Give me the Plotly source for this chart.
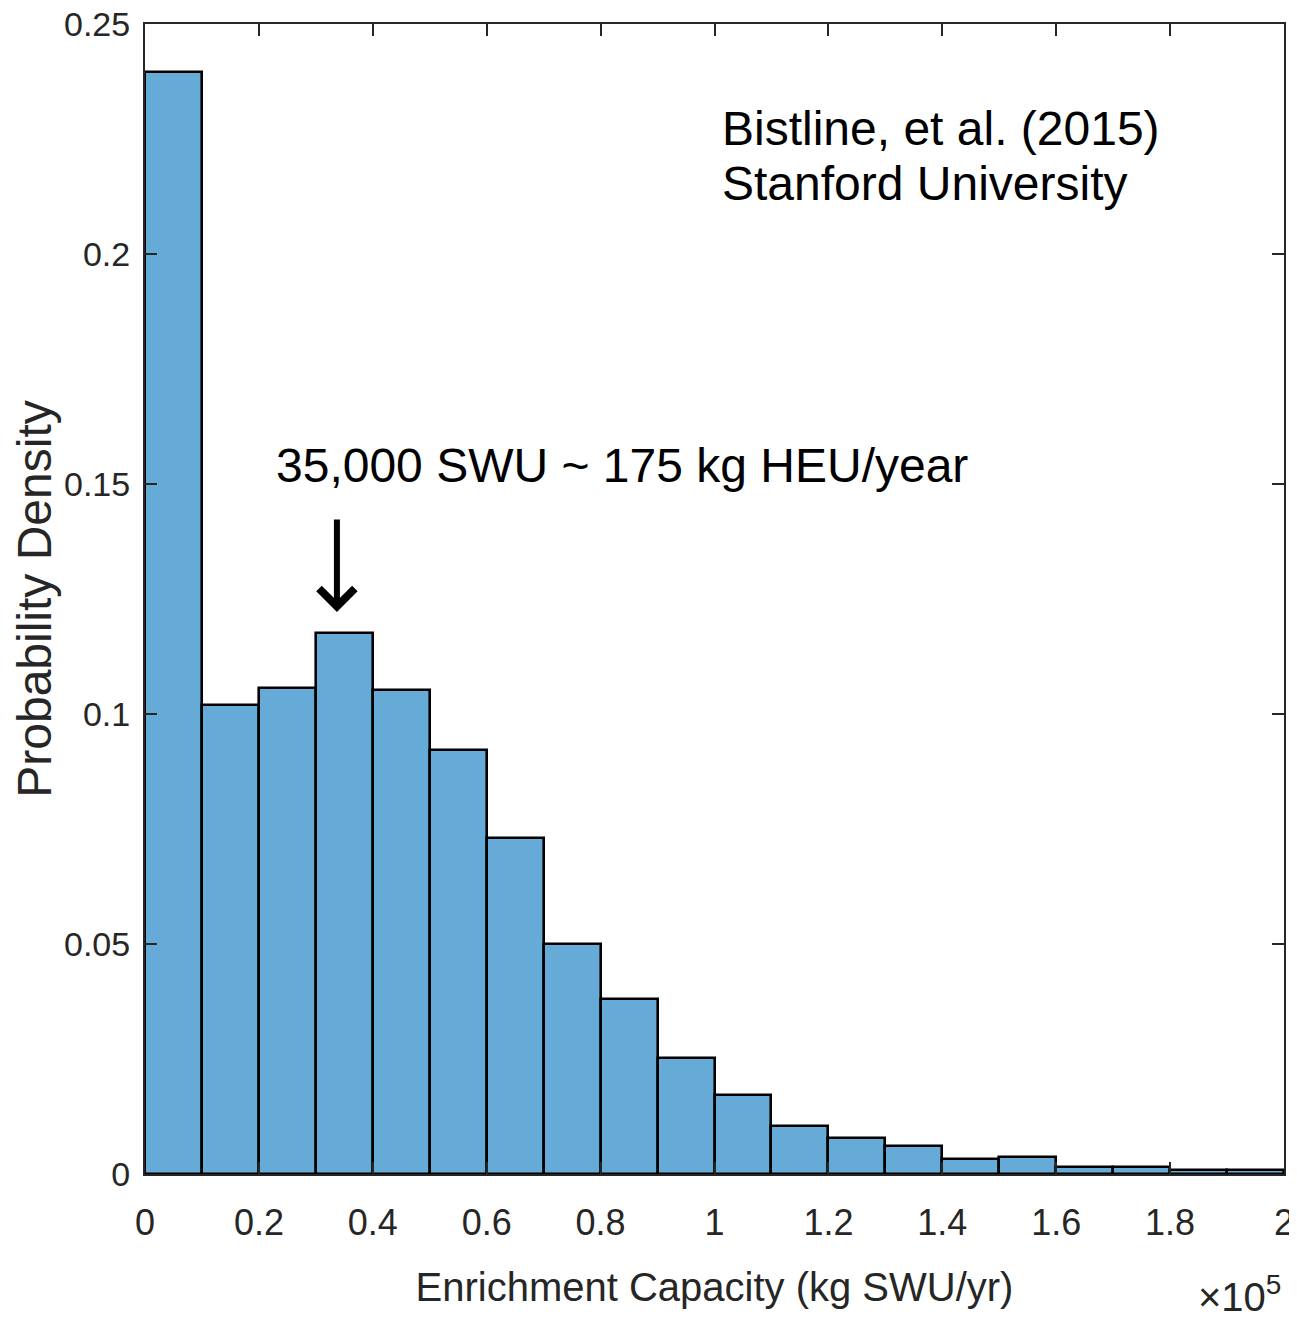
import plotly.graph_objects as go

# Histogram bins (kg SWU/yr) and probability density values
bin_left = [0, 10000, 20000, 30000, 40000, 50000, 60000, 70000, 80000, 90000,
            100000, 110000, 120000, 130000, 140000, 150000, 160000, 170000, 180000, 190000]
bin_width = 10000
density = [0.2396, 0.1020, 0.1057, 0.1176, 0.1052, 0.0922, 0.0730, 0.0500, 0.0380, 0.0252,
           0.0172, 0.0104, 0.0078, 0.0060, 0.0033, 0.0037, 0.0016, 0.0016, 0.0009, 0.0008]

x_tickvals = [0, 20000, 40000, 60000, 80000, 100000, 120000, 140000, 160000, 180000, 200000]
x_ticktext = ["0", "0.2", "0.4", "0.6", "0.8", "1", "1.2", "1.4", "1.6", "1.8", "2"]
y_tickvals = [0, 0.05, 0.1, 0.15, 0.2, 0.25]
y_ticktext = ["0", "0.05", "0.1", "0.15", "0.2", "0.25"]

arrow_x = 33700
arrow_tip_y = 0.1222
arrow_tail_y = 0.1426

narrow = "Liberation Sans Narrow, Arial Narrow, Liberation Sans, sans-serif"
sans = "Liberation Sans, Arial, Helvetica, sans-serif"
axis_col = "#262626"

fig = go.Figure()
fig.add_trace(go.Bar(
    x=bin_left,
    y=density,
    width=[bin_width] * len(bin_left),
    offset=0,
    marker=dict(color="#66AAD7", line=dict(color="black", width=2.6)),
    showlegend=False,
))

fig.update_layout(
    width=1289, height=1310,
    margin=dict(l=137, r=13, t=16, b=144),
    paper_bgcolor="white", plot_bgcolor="white",
    bargap=0,
    font=dict(family=narrow, color=axis_col),
    xaxis=dict(
        range=[0, 200000], tickvals=x_tickvals, ticktext=x_ticktext,
        ticks="inside", ticklen=12, tickwidth=2, tickcolor=axis_col,
        showline=True, linecolor=axis_col, linewidth=2, mirror="ticks",
        showgrid=False, zeroline=False, automargin=False,
        tickfont=dict(size=36, family=narrow, color=axis_col),
        ticklabelstandoff=16, ticklabeloverflow="allow",
        title=dict(text="Enrichment Capacity (kg SWU/yr)",
                   font=dict(size=40, family=narrow, color=axis_col), standoff=31),
    ),
    yaxis=dict(
        range=[0, 0.25], tickvals=y_tickvals, ticktext=y_ticktext,
        ticks="inside", ticklen=12, tickwidth=2, tickcolor=axis_col,
        showline=True, linecolor=axis_col, linewidth=2, mirror="ticks",
        showgrid=False, zeroline=False, automargin=False,
        tickfont=dict(size=34, family=narrow, color=axis_col),
        ticklabelstandoff=6, ticklabeloverflow="allow",
        title=dict(text="Probability Density",
                   font=dict(size=48, family=narrow, color=axis_col), standoff=24),
    ),
)

fig.add_annotation(
    x=arrow_x, y=arrow_tip_y, ax=arrow_x, ay=arrow_tail_y,
    xref="x", yref="y", axref="x", ayref="y",
    text="", showarrow=True, arrowhead=4, arrowsize=1.15, arrowwidth=6, arrowcolor="black",
)
fig.add_annotation(
    x=0.1133, y=0.6165, xref="paper", yref="paper", xanchor="left", yanchor="middle",
    text="35,000 SWU ~ 175 kg HEU/year", showarrow=False,
    font=dict(size=48, family=sans, color="black"),
)
fig.add_annotation(
    x=0.505, y=0.9087, xref="paper", yref="paper", xanchor="left", yanchor="middle",
    text="Bistline, et al. (2015)", showarrow=False,
    font=dict(size=48, family=sans, color="black"),
)
fig.add_annotation(
    x=0.505, y=0.8609, xref="paper", yref="paper", xanchor="left", yanchor="middle",
    text="Stanford University", showarrow=False,
    font=dict(size=48, family=sans, color="black"),
)
fig.add_annotation(
    x=0.999, y=-0.104, xref="paper", yref="paper", xanchor="right", yanchor="middle",
    text="×10<sup>5</sup>", showarrow=False,
    font=dict(size=40, family=narrow, color=axis_col),
)

fig.write_html("out.html")
